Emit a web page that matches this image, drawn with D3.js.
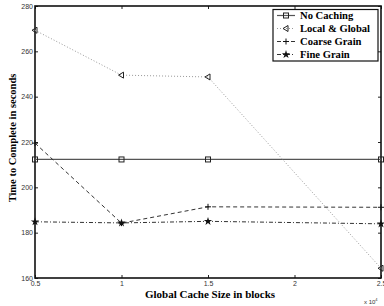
<!DOCTYPE html>
<html>
<head>
<meta charset="utf-8">
<script src="https://cdn.jsdelivr.net/npm/d3@7"></script>
<style>
  body { margin: 0; background: #fff; }
  svg { display: block; }
  .tick text { font-family: "Liberation Sans", Arial, sans-serif; font-size: 7px; fill: #333; }
</style>
</head>
<body>
<div class="svg"></div>
<script>
const cacheSize = [0.5, 1, 1.5, 2.5];
const noCaching = [212.3, 212.3, 212.3, 212.3];
const localGlobal = [269.3, 249.5, 248.7, 164.3];
const coarseGrain = [219.5, 184.2, 191.4, 191.2];
const fineGrain = [184.8, 184.3, 185, 183.9];
const xTicks = [0.5, 1, 1.5, 2, 2.5];
const yTicks = [160, 180, 200, 220, 240, 260, 280];

const w = 384;
const h = 306;
const padLeft = 35, padRight = 381, padTop = 6, padBottom = 278;

const svg = d3.select('.svg').append('svg').attr('width', w).attr('height', h);

const xScale = d3.scaleLinear().domain([0.5, 2.5]).range([padLeft, padRight]);
const yScale = d3.scaleLinear().domain([160, 280]).range([padBottom, padTop]);

// axes, ticks pointing inwards
const fmtX = d => d3.format('')(d);
svg.append('g').attr('transform', `translate(0, ${padBottom})`)
  .call(d3.axisBottom(xScale).tickValues(xTicks).tickFormat(fmtX).tickSizeInner(-3).tickSizeOuter(0).tickPadding(3))
  .call(g => g.select('.domain').remove());
svg.append('g').attr('transform', `translate(0, ${padTop})`)
  .call(d3.axisTop(xScale).tickValues(xTicks).tickFormat('').tickSizeInner(-3).tickSizeOuter(0))
  .call(g => g.select('.domain').remove());
svg.append('g').attr('transform', `translate(${padLeft}, 0)`)
  .call(d3.axisLeft(yScale).tickValues(yTicks).tickSizeInner(-3).tickSizeOuter(0).tickPadding(2))
  .call(g => g.select('.domain').remove());
svg.append('g').attr('transform', `translate(${padRight}, 0)`)
  .call(d3.axisRight(yScale).tickValues(yTicks).tickFormat('').tickSizeInner(-3).tickSizeOuter(0))
  .call(g => g.select('.domain').remove());
svg.selectAll('.tick line').attr('stroke', '#222');

svg.append('rect').attr('x', padLeft).attr('y', padTop).attr('width', padRight - padLeft).attr('height', padBottom - padTop)
  .attr('fill', 'none').attr('stroke', '#111').attr('stroke-width', 1.6);

const series = [
  { name: 'No Caching', values: noCaching, color: '#555', width: 1.2, dash: null, marker: 'square' },
  { name: 'Local & Global', values: localGlobal, color: '#999', width: 1, dash: '1,2', marker: 'triangle' },
  { name: 'Coarse Grain', values: coarseGrain, color: '#333', width: 1, dash: '4,3', marker: 'plus' },
  { name: 'Fine Grain', values: fineGrain, color: '#333', width: 1, dash: '4,2,1,2', marker: 'star' }
];

const line = d3.line().x((d, i) => xScale(cacheSize[i])).y(d => yScale(d));

function drawMarker(g, type, x, y) {
  if (type === 'square') {
    g.append('rect').attr('x', x - 2.5).attr('y', y - 2.5).attr('width', 5).attr('height', 5)
      .attr('fill', 'none').attr('stroke', '#222').attr('stroke-width', 1);
  } else if (type === 'triangle') {
    g.append('path').attr('d', `M${x - 3},${y} L${x + 2},${y - 3} L${x + 2},${y + 3} Z`)
      .attr('fill', 'none').attr('stroke', '#222').attr('stroke-width', 1);
  } else if (type === 'plus') {
    g.append('path').attr('d', `M${x - 3},${y} H${x + 3} M${x},${y - 3} V${y + 3}`)
      .attr('stroke', '#111').attr('stroke-width', 1);
  } else {
    g.append('path').attr('d', d3.symbol(d3.symbolStar, 22)()).attr('transform', `translate(${x},${y})`)
      .attr('fill', '#111');
  }
}

series.forEach(s => {
  svg.append('path').datum(s.values).attr('d', line).attr('fill', 'none')
    .attr('stroke', s.color).attr('stroke-width', s.width).attr('stroke-dasharray', s.dash);
  const g = svg.append('g');
  s.values.forEach((v, i) => drawMarker(g, s.marker, xScale(cacheSize[i]), yScale(v)));
});

// legend
const legend = svg.append('g');
legend.append('rect').attr('x', 273).attr('y', 9.5).attr('width', 105).attr('height', 51.5)
  .attr('fill', '#fff').attr('stroke', '#111').attr('stroke-width', 1.2);
series.forEach((s, i) => {
  const y = 15.5 + i * 13;
  legend.append('line').attr('x1', 277).attr('x2', 295).attr('y1', y).attr('y2', y)
    .attr('stroke', s.color).attr('stroke-width', s.width).attr('stroke-dasharray', s.dash);
  drawMarker(legend, s.marker, 286, y);
  legend.append('text').attr('x', 300).attr('y', y + 3.5).text(s.name)
    .style('font-family', '"Liberation Serif", "Times New Roman", serif').style('font-size', '10.6px')
    .style('font-weight', 'bold');
});

svg.append('text').attr('x', 210).attr('y', 298).attr('text-anchor', 'middle')
  .text('Global Cache Size in blocks')
  .style('font-family', '"Liberation Serif", serif').style('font-size', '11px').style('font-weight', 'bold');

svg.append('text').attr('transform', 'translate(16, 138) rotate(-90)').attr('text-anchor', 'middle')
  .text('Time to Complete in seconds')
  .style('font-family', '"Liberation Serif", serif').style('font-size', '10.5px').style('font-weight', 'bold');

const sci = svg.append('text').attr('x', 364).attr('y', 304)
  .style('font-family', '"Liberation Sans", sans-serif').style('font-size', '6px').style('fill', '#333');
sci.append('tspan').text('x 10');
sci.append('tspan').attr('dy', -3).style('font-size', '4px').text('4');
</script>
</body>
</html>
